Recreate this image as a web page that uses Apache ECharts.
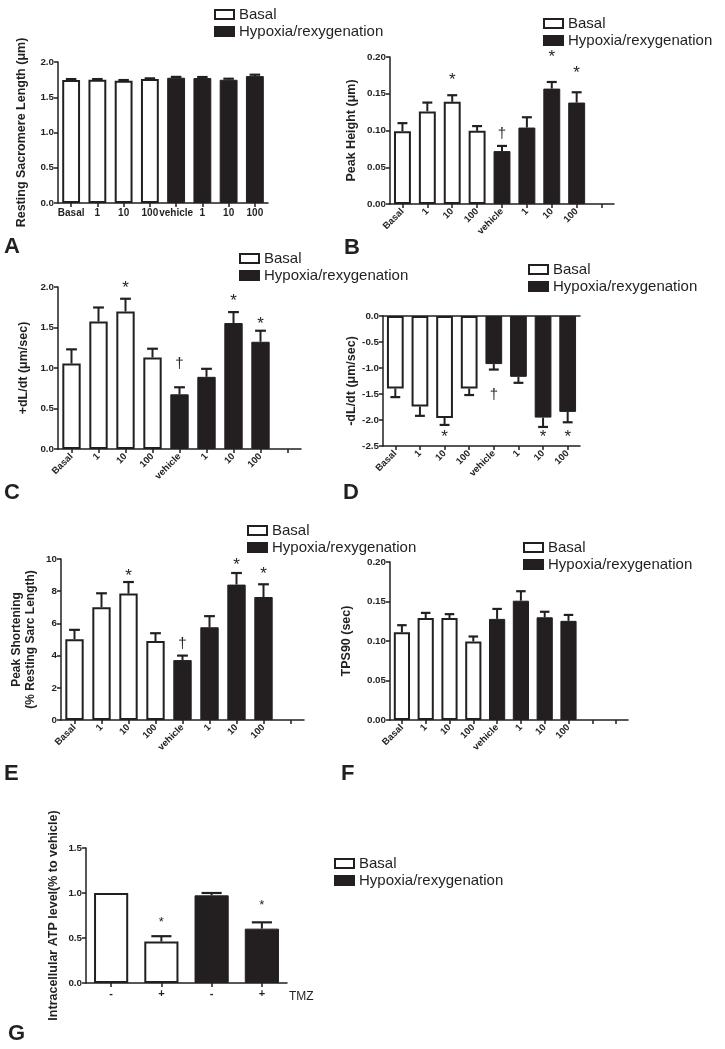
<!DOCTYPE html>
<html>
<head>
<meta charset="utf-8">
<script src="https://cdn.jsdelivr.net/npm/echarts@6/dist/echarts.min.js"></script>
<style>
html,body{margin:0;padding:0;background:#fff;}
#chart{width:725px;height:1049px;}
</style>
</head>
<body>
<div id="chart"></div>
<script>
// ---------- DATA ----------
const catsA = ['Basal','1','10','100','vehicle','1','10','100'];
const catsB = ['Basal','1','10','100','vehicle','1','10','100',''];
const catsC = ['Basal','1','10','100','vehicle','1','10','100',''];
const catsD = ['Basal','1','10','100','vehicle','1','10','100'];
const catsE = ['Basal','1','10','100','vehicle','1','10','100',''];
const catsF = ['Basal','1','10','100','vehicle','1','10','100','',''];
const catsG = ['-','+','-','+'];

const meanA = [1.743,1.748,1.734,1.758,1.777,1.772,1.748,1.80];
const errA  = [0.015,0.010,0.010,0.010,0.012,0.015,0.015,0.020];

const meanB = [0.099,0.126,0.139,0.0995,0.072,0.104,0.157,0.138];
const errB  = [0.011,0.012,0.009,0.0065,0.007,0.014,0.009,0.014];

const meanC = [1.056,1.573,1.698,1.13,0.675,0.891,1.555,1.324];
const errC  = [0.174,0.174,0.157,0.108,0.087,0.099,0.135,0.136];

const meanD = [-1.395,-1.74,-1.96,-1.395,-0.925,-1.17,-1.954,-1.844];
const errD  = [0.165,0.18,0.135,0.125,0.105,0.115,0.18,0.20];

const meanE = [5.02,7.0,7.85,4.9,3.72,5.76,8.41,7.64];
const errE  = [0.58,0.87,0.72,0.49,0.28,0.69,0.72,0.79];

const meanF = [0.111,0.129,0.129,0.0994,0.128,0.151,0.130,0.1255];
const errF  = [0.009,0.0066,0.005,0.0063,0.0126,0.012,0.007,0.0075];

const meanG = [1.0,0.46,0.974,0.604];
const errG  = [0,0.06,0.026,0.07];

// significance marks: [category index, value-level, symbol]
const markA = [];
const markB = [[2,0.174,'*'],[4,0.095,'†'],[6,0.205,'*'],[7,0.183,'*']];
const markC = [[2,2.03,'*'],[4,1.05,'†'],[6,1.865,'*'],[7,1.588,'*']];
const markD = [[2,-2.27,'*'],[4,-1.52,'†'],[6,-2.27,'*'],[7,-2.27,'*']];
const markE = [[2,9.17,'*'],[4,4.73,'†'],[6,9.83,'*'],[7,9.26,'*']];
const markF = [];
const markG = [[1,0.70,'*'],[3,0.89,'*']];

const seriesNames = ['Basal','Hypoxia/rexygenation'];
const panelLetters = ['A','B','C','D','E','F','G'];

// ---------- STYLE / LAYOUT ----------
const FONT = '"Liberation Sans", Arial, Helvetica, sans-serif';
const INK = '#231f20';

const panels = [
  {cats:catsA, mean:meanA, err:errA, marks:markA, nB:4, grid:{left:58,top:62,width:210,height:141},
   min:0,max:2.0,interval:0.5,dec:1,name:'Resting Sacromere Length (μm)',nameGap:29,rotate:0,
   legend:{left:214,top:7}, letter:{x:4,y:236}, markSize:17},
  {cats:catsB, mean:meanB, err:errB, marks:markB, nB:4, grid:{left:390,top:57,width:224,height:147},
   min:0,max:0.20,interval:0.05,dec:2,name:'Peak Height (μm)',nameGap:31,rotate:45,
   legend:{left:543,top:16}, letter:{x:344,y:237}, markSize:17},
  {cats:catsC, mean:meanC, err:errC, marks:markC, nB:4, grid:{left:58,top:287,width:243,height:162},
   min:0,max:2.0,interval:0.5,dec:1,name:'+dL/dt (μm/sec)',nameGap:27,rotate:45,
   legend:{left:239,top:251}, letter:{x:4,y:482}, markSize:17},
  {cats:catsD, mean:meanD, err:errD, marks:markD, nB:4, grid:{left:383,top:316,width:197,height:130},
   min:-2.5,max:0,interval:0.5,dec:1,name:'-dL/dt (μm/sec)',nameGap:24,rotate:45,
   legend:{left:528,top:262}, letter:{x:343,y:482}, markSize:17, topLine:true},
  {cats:catsE, mean:meanE, err:errE, marks:markE, nB:4, grid:{left:61,top:559,width:243,height:161},
   min:0,max:10,interval:2,dec:0,name:'Peak Shortening\n(% Resting Sarc Length)',nameGap:23,rotate:45,
   legend:{left:247,top:523}, letter:{x:4,y:763}, markSize:17},
  {cats:catsF, mean:meanF, err:errF, marks:markF, nB:4, grid:{left:390,top:562,width:238,height:158},
   min:0,max:0.20,interval:0.05,dec:2,name:'TPS90 (sec)',nameGap:36,rotate:45,
   legend:{left:523,top:540}, letter:{x:341,y:763}, markSize:17},
  {cats:catsG, mean:meanG, err:errG, marks:markG, nB:2, grid:{left:86,top:848,width:201,height:135},
   min:0,max:1.5,interval:0.5,dec:1,name:'Intracellular ATP level(% to vehicle)',nameGap:25,rotate:0,
   legend:{left:334,top:856}, letter:{x:8,y:1023}, markSize:13}
];

const grids=[], xAxes=[], yAxes=[], series=[], legends=[], graphics=[];
const axisLineStyle = {color:INK, width:1.5};

panels.forEach((p, gi) => {
  grids.push(Object.assign({containLabel:false}, p.grid));
  const xIdx = xAxes.length;
  xAxes.push({
    gridIndex:gi, type:'category', data:p.cats, position:'bottom',
    axisLine:{show:true, onZero:false, lineStyle:axisLineStyle},
    axisTick:{show:true, alignWithLabel:true, length:4, lineStyle:axisLineStyle},
    axisLabel:{interval:0, rotate:p.rotate, margin:p.rotate?6:5, color:INK,
      fontFamily:FONT, fontWeight:'bold', fontSize:p.rotate?9.5:(gi===6?11:10)},
    splitLine:{show:false}
  });
  if (p.topLine) {
    xAxes.push({gridIndex:gi, type:'category', data:p.cats, position:'top',
      axisLine:{show:true, onZero:false, lineStyle:axisLineStyle},
      axisTick:{show:false}, axisLabel:{show:false}, splitLine:{show:false}});
  }
  yAxes.push({
    gridIndex:gi, type:'value', min:p.min, max:p.max, interval:p.interval,
    axisLine:{show:true, onZero:false, lineStyle:axisLineStyle},
    axisTick:{show:true, length:4, lineStyle:axisLineStyle},
    axisLabel:{color:INK, fontFamily:FONT, fontWeight:'bold', fontSize:9.8, margin:4,
      formatter: v => Number(v).toFixed(p.dec)},
    splitLine:{show:false},
    name:p.name, nameLocation:'middle', nameGap:p.nameGap,
    nameTextStyle:{color:INK, fontFamily:FONT, fontWeight:'bold', fontSize:gi===4?12:12.5, lineHeight:14}
  });
  const basal = p.mean.map((v,i)=> i<p.nB ? v : null);
  const hyp   = p.mean.map((v,i)=> i>=p.nB ? v : null);
  series.push({
    name:seriesNames[0], type:'bar', xAxisIndex:xIdx, yAxisIndex:gi, data:basal,
    barWidth:'68%', barGap:'-100%',
    itemStyle:{color:'#ffffff', borderColor:INK, borderWidth:2}, z:2, silent:true
  });
  series.push({
    name:seriesNames[1], type:'bar', xAxisIndex:xIdx, yAxisIndex:gi, data:hyp,
    barWidth:'68%', barGap:'-100%',
    itemStyle:{color:INK, borderColor:INK, borderWidth:1}, z:2, silent:true
  });
  // error bars
  series.push({
    type:'custom', xAxisIndex:xIdx, yAxisIndex:gi, z:3, silent:true,
    data:p.mean.map((v,i)=>[i, v, p.err[i]]),
    renderItem:(params, api) => {
      const x = api.value(0), m = api.value(1), e = api.value(2);
      if (!e) return null;
      const p0 = api.coord([x, m]);
      const p1 = api.coord([x, m + (m < 0 ? -e : e)]);
      const hw = api.size([1,0])[0]*0.2;
      return {type:'group', children:[
        {type:'line', shape:{x1:p0[0],y1:p0[1],x2:p1[0],y2:p1[1]}, style:{stroke:INK,lineWidth:2}},
        {type:'line', shape:{x1:p0[0]-hw,y1:p1[1],x2:p0[0]+hw,y2:p1[1]}, style:{stroke:INK,lineWidth:2.2}}
      ]};
    }
  });
  if (p.marks.length) {
    const marks = p.marks;
    series.push({
      type:'custom', xAxisIndex:xIdx, yAxisIndex:gi, z:4, silent:true, clip:false,
      data:marks.map(m=>[m[0], m[1]]),
      renderItem:(params, api) => {
        const pt = api.coord([api.value(0), api.value(1)]);
        const sym = marks[params.dataIndex][2];
        const fs = sym === '*' ? p.markSize : 15;
        const dy = sym === '*' ? fs*0.22 : 0;
        return {type:'text', x:pt[0], y:pt[1]+dy,
          style:{text:sym, fill:INK, font:fs+'px '+FONT, align:'center', verticalAlign:'middle'}};
      }
    });
  }
  legends.push({
    left:p.legend.left, top:p.legend.top, orient:'vertical', padding:0, itemGap:2,
    itemWidth:19, itemHeight:9, icon:'rect', selectedMode:false,
    data:seriesNames,
    textStyle:{color:INK, fontFamily:FONT, fontSize:15}
  });
  graphics.push({type:'text', left:p.letter.x, top:p.letter.y,
    style:{text:panelLetters[gi], fill:INK, font:'bold 22px '+FONT}});
});

graphics.push({type:'text', left:289, top:991,
  style:{text:'TMZ', fill:INK, font:'12px '+FONT}});

const chart = echarts.init(document.getElementById('chart'), null, {renderer:'canvas'});
chart.setOption({
  backgroundColor:'#ffffff',
  animation:false,
  grid:grids, xAxis:xAxes, yAxis:yAxes, series:series, legend:legends, graphic:graphics
});
</script>
</body>
</html>
